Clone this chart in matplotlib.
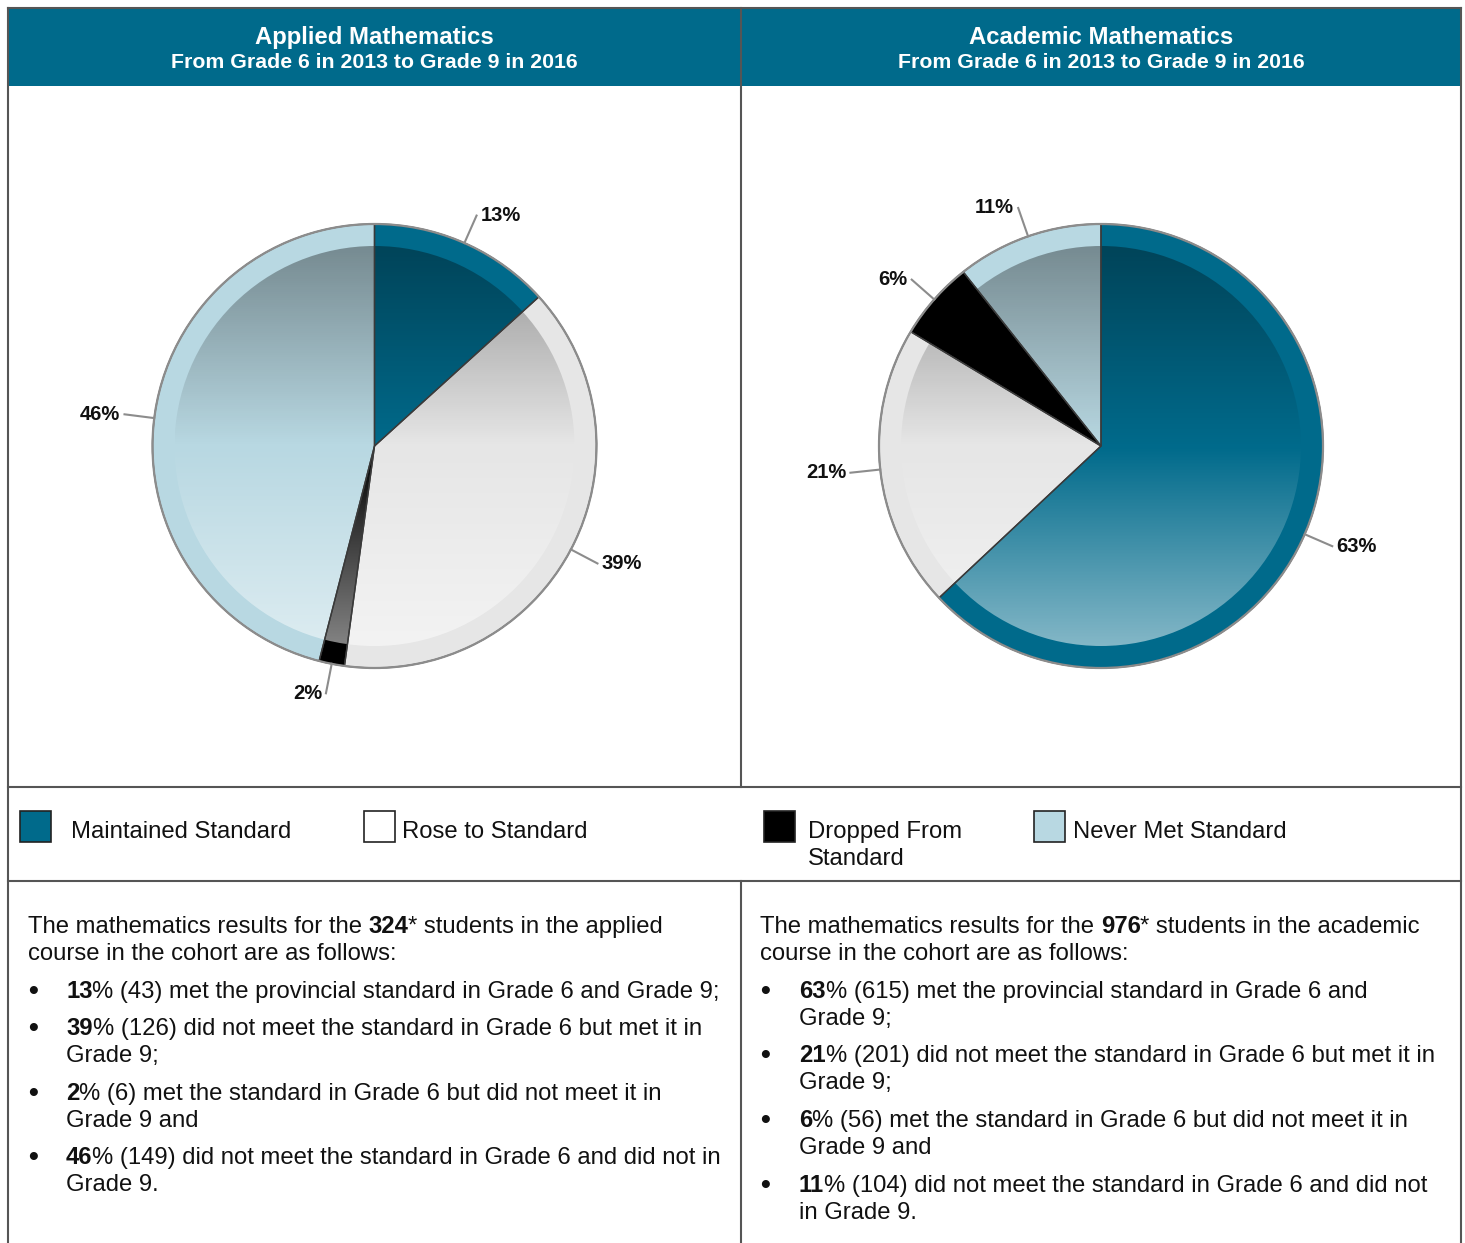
import numpy as np
import matplotlib
matplotlib.use("Agg")
import matplotlib.pyplot as plt
from matplotlib.patches import Rectangle, Circle, Wedge

plt.rcParams['font.family'] = ['Liberation Sans', 'DejaVu Sans']

# ---------------- data ----------------
categories = ["Maintained Standard", "Rose to Standard", "Dropped From\nStandard", "Never Met Standard"]
slice_colors = ["#006a8b", "#e6e6e6", "#000000", "#b8d8e2"]
legend_colors = ["#006a8b", "#ffffff", "#000000", "#b8d8e2"]

panel_titles = ["Applied Mathematics", "Academic Mathematics"]
panel_subtitle = "From Grade 6 in 2013 to Grade 9 in 2016"

applied_counts = [43, 126, 6, 149]
applied_pct = [13, 39, 2, 46]
applied_total = 324

academic_counts = [615, 201, 56, 104]
academic_pct = [63, 21, 6, 11]
academic_total = 976

applied_intro = [[("The mathematics results for the ", False), ("324", True), ("* students in the applied", False)],
                 [("course in the cohort are as follows:", False)]]
academic_intro = [[("The mathematics results for the ", False), ("976", True), ("* students in the academic", False)],
                  [("course in the cohort are as follows:", False)]]

applied_bullets = [
    ["% (43) met the provincial standard in Grade 6 and Grade 9;"],
    ["% (126) did not meet the standard in Grade 6 but met it in", "Grade 9;"],
    ["% (6) met the standard in Grade 6 but did not meet it in", "Grade 9 and"],
    ["% (149) did not meet the standard in Grade 6 and did not in", "Grade 9."],
]
academic_bullets = [
    ["% (615) met the provincial standard in Grade 6 and", "Grade 9;"],
    ["% (201) did not meet the standard in Grade 6 but met it in", "Grade 9;"],
    ["% (56) met the standard in Grade 6 but did not meet it in", "Grade 9 and"],
    ["% (104) did not meet the standard in Grade 6 and did not", "in Grade 9."],
]

W, H = 1465, 1243
fig = plt.figure(figsize=(W / 100, H / 100), dpi=100)
bg = fig.add_axes([0, 0, 1, 1])
bg.set_xlim(0, W)
bg.set_ylim(H, 0)
bg.axis('off')

HEAD = "#006a8b"
LINE = "#555555"

# header bands
bg.add_patch(Rectangle((8, 8), 1453, 78, facecolor=HEAD, edgecolor='none', zorder=1))
# borders
lw = 1.5
bg.plot([8, 8], [8, H + 5], color=LINE, lw=lw, zorder=3)
bg.plot([1461, 1461], [8, H + 5], color=LINE, lw=lw, zorder=3)
bg.plot([8, 1461], [8, 8], color=LINE, lw=lw, zorder=3)
bg.plot([8, 1461], [787, 787], color=LINE, lw=lw, zorder=3)
bg.plot([8, 1461], [881, 881], color=LINE, lw=lw, zorder=3)
bg.plot([741, 741], [8, 787], color=LINE, lw=lw, zorder=3)
bg.plot([741, 741], [881, H + 5], color=LINE, lw=lw, zorder=3)

# header text
for cx, t in zip([374, 1101], panel_titles):
    bg.text(cx, 37, t, ha='center', va='center', color='white', fontsize=17.2, fontweight='bold', zorder=4)
    bg.text(cx, 62, panel_subtitle, ha='center', va='center', color='white', fontsize=15.3, fontweight='bold', zorder=4)

# ---------------- pies ----------------
R_PX = 222.0
R_IN = 200.0 / 222.0
HALF = 300.0


def gradient_image(n=400):
    y = np.linspace(1, -1, n)  # top to bottom
    img = np.zeros((n, 2, 4))
    top = y > 0
    img[top, :, 0:3] = 0.0
    img[top, :, 3] = (0.36 * y[top])[:, None]
    bot = ~top
    img[bot, :, 0:3] = 1.0
    img[bot, :, 3] = (0.52 * (-y[bot]))[:, None]
    return img


def draw_pie(cx, cy, counts, pcts):
    ax = fig.add_axes([(cx - HALF) / W, 1 - (cy + HALF) / H, 2 * HALF / W, 2 * HALF / H])
    wedges, _ = ax.pie(counts, colors=slice_colors, startangle=90, counterclock=False,
                       radius=1.0, wedgeprops=dict(linewidth=0, edgecolor='none'))
    lim = HALF / R_PX
    ax.set_aspect('auto')
    ax.axis('off')
    for w in wedges:
        w.set_zorder(1)
    im = ax.imshow(gradient_image(), extent=[-R_IN, R_IN, -R_IN, R_IN], aspect='auto',
                   zorder=2, interpolation='bilinear')
    clip = Circle((0, 0), R_IN, transform=ax.transData, facecolor='none', edgecolor='none')
    ax.add_patch(clip)
    im.set_clip_path(clip)
    # radial edges
    for w in wedges:
        ax.add_patch(Wedge((0, 0), 1.0, w.theta1, w.theta2, facecolor='none',
                           edgecolor='#3a3a3a', linewidth=1.0, zorder=3))
    ax.add_patch(Circle((0, 0), 1.0, facecolor='none', edgecolor='#8c8c8c', linewidth=1.6, zorder=4))
    # labels
    for w, p in zip(wedges, pcts):
        ang = np.deg2rad((w.theta1 + w.theta2) / 2)
        x0, y0 = np.cos(ang), np.sin(ang)
        r1 = 1.0
        r2 = 252.0 / R_PX
        ax.plot([r1 * x0, r2 * x0], [r1 * y0, r2 * y0], color='#8c8c8c', lw=1.5, zorder=5)
        gap = 4.0 / R_PX
        if x0 >= 0:
            ax.text(r2 * x0 + gap, r2 * y0, f"{p}%", ha='left', va='center', fontsize=14.5,
                    fontweight='bold', color='#111111', zorder=6)
        else:
            ax.text(r2 * x0 - gap, r2 * y0, f"{p}%", ha='right', va='center', fontsize=14.5,
                    fontweight='bold', color='#111111', zorder=6)
    ax.set_xlim(-lim, lim)
    ax.set_ylim(-lim, lim)


draw_pie(374.5, 446, applied_counts, applied_pct)
draw_pie(1101, 446, academic_counts, academic_pct)

# ---------------- legend ----------------
leg_box_x = [20, 364, 764, 1034]
leg_text_x = [71, 402, 808, 1073]
for bx, tx, c, lab in zip(leg_box_x, leg_text_x, legend_colors, categories):
    bg.add_patch(Rectangle((bx, 811), 31, 31, facecolor=c, edgecolor='#222222', lw=1.2, zorder=4))
    bg.text(tx, 821, lab, ha='left', va='top', fontsize=17.2, color='#111111',
            linespacing=1.32, zorder=4)

# ---------------- body text ----------------
renderer = fig.canvas.get_renderer()
BODY = 17.2


def rich_line(x, y, parts):
    for txt, bold in parts:
        t = bg.text(x, y, txt, ha='left', va='baseline', fontsize=BODY,
                    fontweight='bold' if bold else 'normal', color='#111111', zorder=4)
        bb = t.get_window_extent(renderer=renderer)
        x += bb.width


def text_block(x0, bullet_x, text_x, intro, pcts, bullets, intro_y, bullet_ys, line_gap):
    for i, parts in enumerate(intro):
        rich_line(x0, intro_y + i * line_gap, parts)
    for p, lines, by in zip(pcts, bullets, bullet_ys):
        bg.text(bullet_x, by + 1, "\u2022", ha='left', va='baseline', fontsize=BODY + 3,
                fontweight='bold', color='#111111')
        rich_line(text_x, by, [(str(p), True), (lines[0], False)])
        for j, extra in enumerate(lines[1:]):
            rich_line(text_x, by + (j + 1) * line_gap, [(extra, False)])


text_block(28, 28, 66, applied_intro, applied_pct, applied_bullets,
           933, [998, 1035, 1100, 1164], 26.8)
text_block(760, 760, 799, academic_intro, academic_pct, academic_bullets,
           933, [998, 1062, 1127, 1192], 26.8)

fig.savefig("out.png", dpi=100)
